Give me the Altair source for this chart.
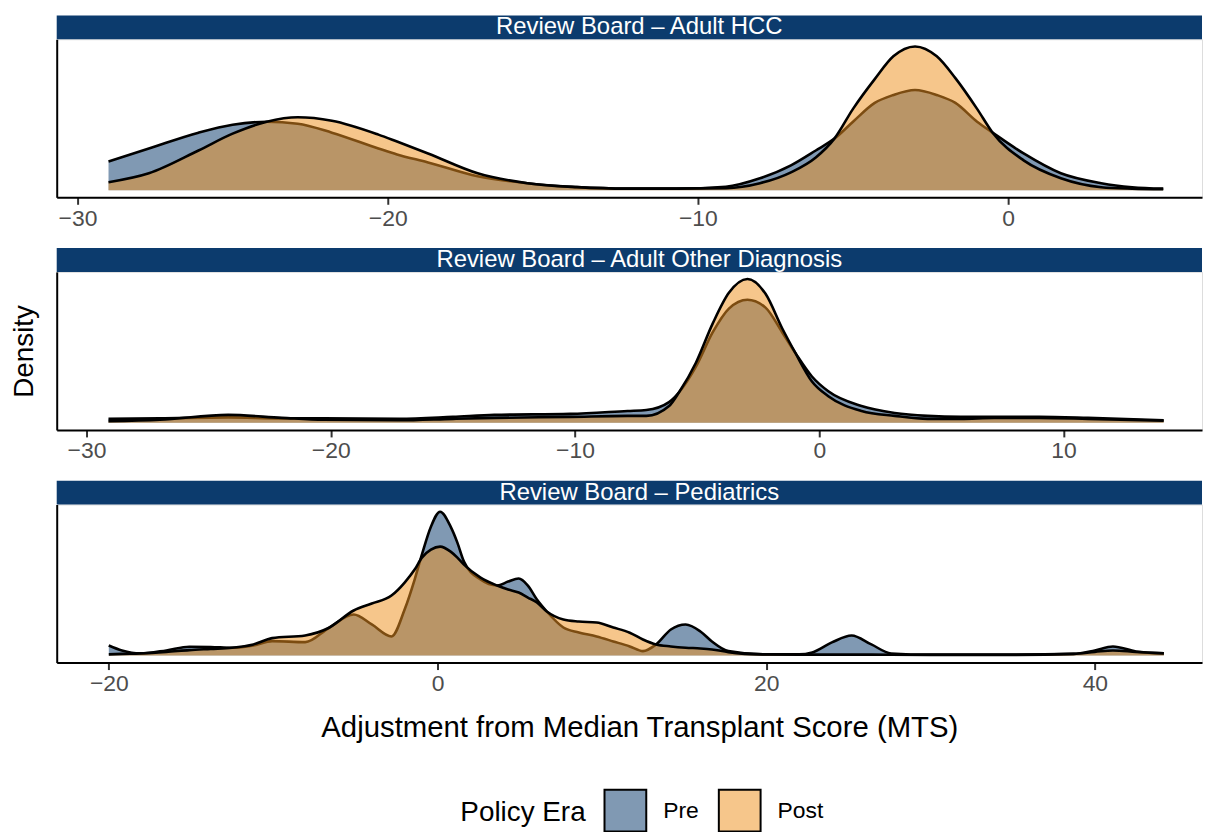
import altair as alt
import pandas as pd

# ---------------- data ----------------
eras = ["Pre", "Post"]

panel_titles = [
    "Review Board – Adult HCC",
    "Review Board – Adult Other Diagnosis",
    "Review Board – Pediatrics",
]

# Adult HCC
hcc_x = [-29.0, -27.7, -26.1, -25.0, -23.9, -22.9, -21.8, -20.3, -19.7, -18.7,
         -17.1, -15.5, -13.9, -12.3, -10.7, -9.1, -8.0, -7.0, -6.2, -5.6,
         -5.0, -4.3, -3.7, -3.0, -2.3, -1.7, -1.0, -0.5, 0.5, 1.7,
         3.0, 4.0, 5.0]
hcc_pre = [0.029, 0.042, 0.058, 0.066, 0.069, 0.067, 0.058, 0.042, 0.036, 0.028,
           0.014, 0.007, 0.003, 0.0015, 0.0015, 0.0035, 0.012, 0.025, 0.040, 0.052,
           0.069, 0.088, 0.096, 0.101, 0.096, 0.088, 0.069, 0.058, 0.037, 0.017,
           0.007, 0.003, 0.0015]
hcc_post = [0.008, 0.017, 0.040, 0.057, 0.069, 0.0735, 0.070, 0.056, 0.049, 0.037,
            0.017, 0.007, 0.003, 0.0015, 0.0015, 0.002, 0.007, 0.018, 0.033, 0.052,
            0.082, 0.112, 0.135, 0.145, 0.135, 0.113, 0.082, 0.058, 0.030, 0.012,
            0.003, 0.0015, 0.001]

# Adult Other Diagnosis
oth_x = [-29.1, -27.0, -24.2, -22.0, -20.3, -17.2, -15.0, -13.3, -10.2, -7.85,
         -7.08, -6.15, -5.74, -5.05, -4.36, -3.7, -2.94, -2.2, -1.52, -0.98,
         -0.3, 0.37, 1.73, 3.09, 4.44, 5.8, 7.16, 9.0, 11.0, 14.1]
oth_pre = [0.004, 0.0045, 0.0055, 0.0045, 0.0045, 0.004, 0.006, 0.008, 0.009, 0.012,
           0.013, 0.021, 0.031, 0.057, 0.092, 0.116, 0.125, 0.117, 0.092, 0.071,
           0.047, 0.032, 0.017, 0.010, 0.007, 0.006, 0.006, 0.006, 0.005, 0.0025]
oth_post = [0.0015, 0.003, 0.008, 0.005, 0.003, 0.0025, 0.004, 0.005, 0.006, 0.007,
            0.007, 0.017, 0.031, 0.061, 0.101, 0.132, 0.146, 0.131, 0.096, 0.071,
            0.042, 0.027, 0.012, 0.007, 0.004, 0.004, 0.005, 0.005, 0.004, 0.002]

# Pediatrics
ped_x = [-20.0, -19.2, -18.1, -16.5, -15.1, -13.8, -12.5, -11.2, -10.06, -8.05,
         -6.6, -5.1, -4.0, -2.8, -2.0, -1.39, -0.95, -0.4, 0.16, 0.8,
         1.21, 1.61, 2.62, 3.63, 4.3, 4.94, 5.5, 6.05, 6.65, 7.66,
         8.6, 9.68, 10.7, 11.7, 12.5, 13.3, 14.2, 15.1, 16.0, 16.7,
         17.7, 19.8, 22.0, 22.8, 24.0, 25.2, 26.4, 27.6, 30.0, 35.0,
         38.7, 40.0, 41.1, 42.5, 44.2]
ped_pre = [0.010, 0.005, 0.002, 0.005, 0.0087, 0.0085, 0.0077, 0.010, 0.0143, 0.0133,
           0.0277, 0.041, 0.031, 0.019, 0.046, 0.076, 0.101, 0.129, 0.144, 0.129,
           0.113, 0.094, 0.076, 0.070, 0.074, 0.077, 0.070, 0.056, 0.044, 0.028,
           0.023, 0.019, 0.014, 0.009, 0.0043, 0.011, 0.026, 0.031, 0.024, 0.014,
           0.0043, 0.001, 0.001, 0.003, 0.013, 0.020, 0.011, 0.002, 0.0008, 0.0008,
           0.0015, 0.005, 0.009, 0.004, 0.002]
ped_post = [0.001, 0.0015, 0.002, 0.0035, 0.0053, 0.0065, 0.0077, 0.011, 0.0173, 0.020,
            0.0277, 0.045, 0.052, 0.060, 0.073, 0.086, 0.098, 0.106, 0.109, 0.104,
            0.098, 0.091, 0.078, 0.070, 0.066, 0.063, 0.058, 0.053, 0.044, 0.036,
            0.034, 0.033, 0.028, 0.0227, 0.016, 0.011, 0.009, 0.0077, 0.007, 0.006,
            0.0033, 0.001, 0.0008, 0.0008, 0.0008, 0.0008, 0.0008, 0.0007, 0.0005, 0.0005,
            0.0015, 0.0035, 0.005, 0.0035, 0.002]

x_domains = [[-30.67, 6.25], [-31.22, 15.67], [-23.17, 46.52]]
x_ticks = [[-30, -20, -10, 0], [-30, -20, -10, 0, 10], [-20, 0, 20, 40]]

# ---------------- styling ----------------
FONT = "Liberation Sans"
NAVY = "#0C3B6D"
PRE_FILL = "#8099B3"
POST_FILL = "#EE9120"
POST_OPACITY = 0.52
POST_LEGEND = "#F6C68B"
W = 1152
H = 159


def panel(xs, pre, post, label, xdom, ticks, ytitle, xtitle, legend=False):
    ymax = max(max(pre), max(post))
    xscale = alt.Scale(domain=xdom, nice=False, zero=False)
    yscale = alt.Scale(domain=[-0.05 * ymax, 1.05 * ymax], nice=False, zero=False)
    xaxis = alt.Axis(values=ticks, grid=False, domainColor="black", domainWidth=2,
                     tickColor="#333333", tickWidth=2, tickSize=7,
                     labelColor="#4D4D4D", labelFontSize=23, labelFont=FONT,
                     labelPadding=3,
                     title=xtitle if xtitle else None,
                     titleFont=FONT, titleFontSize=29.5, titleFontWeight="normal",
                     titleColor="black", titlePadding=18, titleX=586)
    yaxis = alt.Axis(grid=False, ticks=False, labels=False, domainColor="black",
                     domainWidth=2, title=ytitle if ytitle else None, titleFont=FONT,
                     titleFontSize=28, titleFontWeight="normal", titleColor="black",
                     titlePadding=18)
    xenc = alt.X("x:Q", scale=xscale, axis=xaxis)
    yenc = alt.Y("d:Q", scale=yscale, axis=yaxis)

    df_pre = pd.DataFrame({"x": xs, "d": pre})
    df_post = pd.DataFrame({"x": xs, "d": post})
    df_lab = pd.DataFrame({"label": [label]})

    strip = alt.Chart(df_lab).mark_rect(color=NAVY).encode(
        x=alt.value(0), x2=alt.value(W), y=alt.value(-24), y2=alt.value(0))
    strip_text = alt.Chart(df_lab).mark_text(
        color="white", font=FONT, fontSize=24, baseline="middle", align="center"
    ).encode(x=alt.value(586), y=alt.value(-12), text="label:N")

    pre_area = alt.Chart(df_pre).mark_area(color=PRE_FILL, interpolate="monotone").encode(
        x=xenc, y=yenc, y2=alt.datum(0))
    pre_line = alt.Chart(df_pre).mark_line(color="black", strokeWidth=2.6,
                                           interpolate="monotone").encode(x=xenc, y=yenc)
    post_area = alt.Chart(df_post).mark_area(color=POST_FILL, opacity=POST_OPACITY,
                                             interpolate="monotone").encode(
        x=xenc, y=yenc, y2=alt.datum(0))
    post_line = alt.Chart(df_post).mark_line(color="black", strokeWidth=2.6,
                                             interpolate="monotone").encode(x=xenc, y=yenc)
    layers = [strip, strip_text, pre_area, pre_line, post_area, post_line]

    if legend:
        leg = alt.Chart(pd.DataFrame({"era": eras})).mark_point(
            shape="square", filled=True, opacity=0
        ).encode(
            x=alt.value(0), y=alt.value(0),
            fill=alt.Fill("era:N", sort=eras,
                          scale=alt.Scale(domain=eras, range=[PRE_FILL, POST_LEGEND]),
                          legend=alt.Legend(
                              orient="none", legendX=406, legendY=754,
                              direction="horizontal", title="Policy Era",
                              titleOrient="left", titleFont=FONT, titleFontSize=28,
                              titleFontWeight="normal", titleColor="black",
                              titlePadding=17, labelFont=FONT, labelFontSize=23,
                              labelColor="black", labelOffset=16, columnPadding=16,
                              symbolType="square", symbolSize=1764,
                              symbolStrokeColor="black", symbolStrokeWidth=2,
                              symbolOpacity=1)))
        layers.append(leg)

    return alt.layer(*layers).properties(width=W, height=H)


p1 = panel(hcc_x, hcc_pre, hcc_post, panel_titles[0], x_domains[0], x_ticks[0], None, None)
p2 = panel(oth_x, oth_pre, oth_post, panel_titles[1], x_domains[1], x_ticks[1], "Density", None)
p3 = panel(ped_x, ped_pre, ped_post, panel_titles[2], x_domains[2], x_ticks[2], None,
           "Adjustment from Median Transplant Score (MTS)", legend=True)

chart = alt.vconcat(p1, p2, p3, spacing=75, bounds="flush").properties(
    padding={"left": 2, "top": 4, "right": 0, "bottom": 0}
).configure_view(strokeWidth=0).configure(font=FONT)

chart.save("out.html", embed_options={"renderer": "svg", "actions": False})
